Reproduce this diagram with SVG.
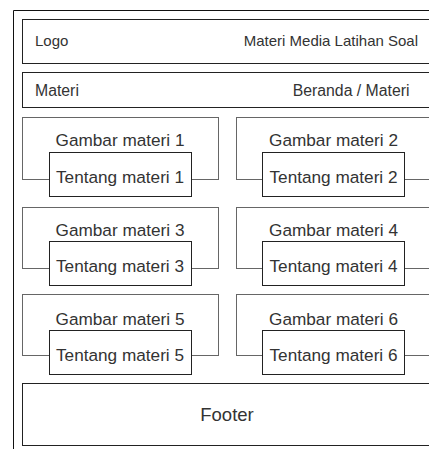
<svg xmlns="http://www.w3.org/2000/svg" width="429" height="449" viewBox="0 0 429 449">
<style>
.frame{fill:none;stroke:#111;stroke-width:1}
.bar{fill:#fff;stroke:#222;stroke-width:1}
.card{fill:#fff;stroke:#666;stroke-width:1}
.inner{fill:#fff;stroke:#222;stroke-width:1}
text{font-family:"Liberation Sans",Arial,sans-serif;fill:#333}
.s{font-size:15px}
.n{font-size:15.8px}
.c{font-size:17.2px;text-anchor:middle}
.f{font-size:18.5px;text-anchor:middle}
</style>
<rect width="429" height="449" fill="#fff"/>
<g id="frame"><path class="frame" d="M13.5 449V10.5H440V449"/></g>
<g id="header">
<rect class="bar" x="22.5" y="19.5" width="410" height="44"/>
<text class="s" x="35" y="45.5">Logo</text>
<text class="s" x="418" y="45.5" text-anchor="end">Materi Media Latihan Soal</text>
</g>
<g id="nav">
<rect class="bar" x="22.5" y="72.5" width="410" height="35"/>
<text class="n" x="35" y="96">Materi</text>
<text class="n" x="409.5" y="96" text-anchor="end">Beranda / Materi</text>
</g>
<g id="card1">
<rect class="card" x="22.5" y="117.5" width="196" height="62"/>
<text class="c" x="120" y="146">Gambar materi 1</text>
<rect class="inner" x="49.5" y="152.5" width="142" height="44"/>
<text class="c" x="120" y="182.5">Tentang materi 1</text>
</g>
<g id="card2">
<rect class="card" x="236.5" y="117.5" width="196" height="62"/>
<text class="c" x="333.5" y="146">Gambar materi 2</text>
<rect class="inner" x="262.5" y="152.5" width="142" height="44"/>
<text class="c" x="333.5" y="182.5">Tentang materi 2</text>
</g>
<g id="card3">
<rect class="card" x="22.5" y="207.5" width="196" height="61"/>
<text class="c" x="120" y="235.5">Gambar materi 3</text>
<rect class="inner" x="49.5" y="241.5" width="142" height="44"/>
<text class="c" x="120" y="271.5">Tentang materi 3</text>
</g>
<g id="card4">
<rect class="card" x="236.5" y="207.5" width="196" height="61"/>
<text class="c" x="333.5" y="235.5">Gambar materi 4</text>
<rect class="inner" x="262.5" y="241.5" width="142" height="44"/>
<text class="c" x="333.5" y="271.5">Tentang materi 4</text>
</g>
<g id="card5">
<rect class="card" x="22.5" y="294.5" width="196" height="61"/>
<text class="c" x="120" y="325">Gambar materi 5</text>
<rect class="inner" x="49.5" y="330.5" width="142" height="44"/>
<text class="c" x="120" y="360.5">Tentang materi 5</text>
</g>
<g id="card6">
<rect class="card" x="236.5" y="294.5" width="196" height="61"/>
<text class="c" x="333.5" y="325">Gambar materi 6</text>
<rect class="inner" x="262.5" y="330.5" width="142" height="44"/>
<text class="c" x="333.5" y="360.5">Tentang materi 6</text>
</g>
<g id="footer">
<rect class="bar" x="22.5" y="383.5" width="410" height="62"/>
<text class="f" x="227" y="421">Footer</text>
</g>
<g id="connectors"/>
</svg>
